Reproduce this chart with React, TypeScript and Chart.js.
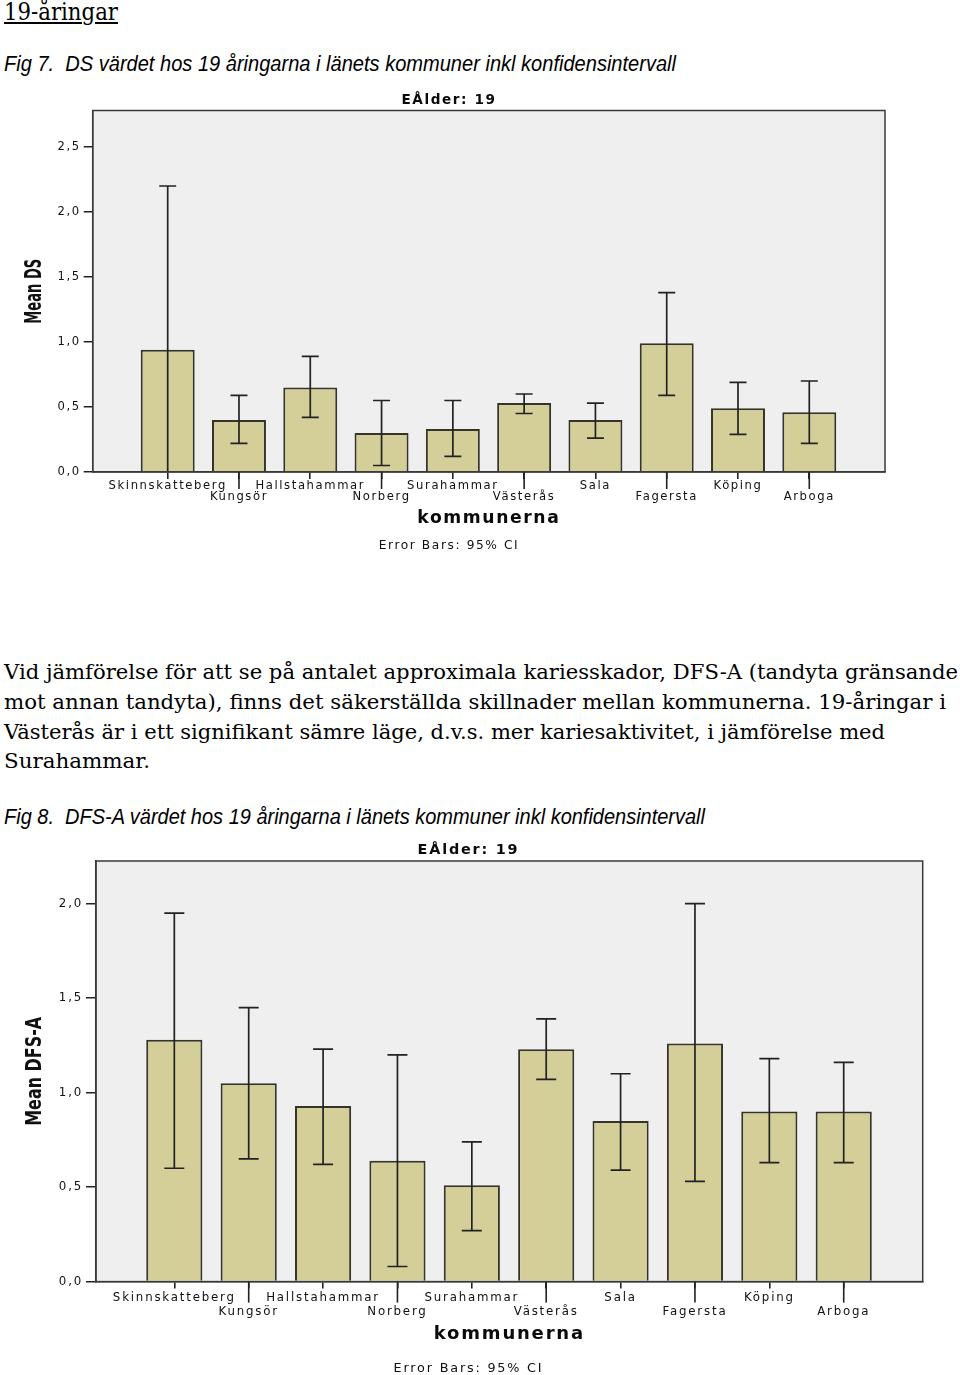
import React, { useEffect, useLayoutEffect, useRef } from "react";
import { Chart, registerables } from "chart.js";

Chart.register(...registerables);

// ---------- data ----------
const kommuner = [
  "Skinnskatteberg",
  "Kungsör",
  "Hallstahammar",
  "Norberg",
  "Surahammar",
  "Västerås",
  "Sala",
  "Fagersta",
  "Köping",
  "Arboga",
];

// Fig 7: Mean DS with 95% CI
const dsMean = [0.94, 0.40, 0.65, 0.30, 0.33, 0.53, 0.40, 0.99, 0.49, 0.46];
const dsUpper = [2.20, 0.59, 0.89, 0.55, 0.55, 0.60, 0.53, 1.38, 0.69, 0.70];
const dsLower = [-0.32, 0.22, 0.42, 0.05, 0.12, 0.45, 0.26, 0.59, 0.29, 0.22];
const dsYTicks = [0, 0.5, 1, 1.5, 2, 2.5];

// Fig 8: Mean DFS-A with 95% CI
const dfsMean = [1.28, 1.05, 0.93, 0.64, 0.51, 1.23, 0.85, 1.26, 0.90, 0.90];
const dfsUpper = [1.95, 1.45, 1.23, 1.20, 0.74, 1.39, 1.10, 2.00, 1.18, 1.16];
const dfsLower = [0.60, 0.65, 0.62, 0.08, 0.27, 1.07, 0.59, 0.53, 0.63, 0.63];
const dfsYTicks = [0, 0.5, 1, 1.5, 2];

// ---------- texts ----------
const heading = "19-åringar";
const fig7Caption =
  "Fig 7.  DS värdet hos 19 åringarna i länets kommuner inkl konfidensintervall";
const bodyLines = [
  "Vid jämförelse för att se på antalet approximala kariesskador, DFS-A (tandyta gränsande",
  "mot annan tandyta), finns det säkerställda skillnader mellan kommunerna. 19-åringar i",
  "Västerås är i ett signifikant sämre läge, d.v.s. mer kariesaktivitet, i jämförelse med",
  "Surahammar.",
];
const fig8Caption =
  "Fig 8.  DFS-A värdet hos 19 åringarna i länets kommuner inkl konfidensintervall";
const chartTitle = "EÅlder: 19";
const xAxisTitle = "kommunerna";
const footnote = "Error Bars: 95% CI";
const dsAxisTitle = "Mean DS";
const dfsAxisTitle = "Mean DFS-A";

// ---------- layout specs ----------
const specDS = {
  canvasTop: 86,
  canvasBottom: 555,
  canvasW: 900,
  areaLeft: 92.7,
  areaRight: 885,
  areaTop: 110.5,
  areaBottom: 472,
  titleX: 449,
  titleY: 100.4,
  titleSize: 13.6,
  xTitleY: 518.1,
  xTitleSize: 17.2,
  subY: 545.8,
  subSize: 12.2,
  tickSize: 11.6,
  tickLH: 11.4,
  tickRow1: 486,
  shortTick: 7,
  longTick: 17,
  yTickLen: 9,
  yTickPad: 3,
  spacing: 1.6,
  xMin: -1.052,
  xMax: 10.062,
  yMax: 2.781,
  barPct: 0.757,
  cap: 17,
  yTitleX: 35,
  yTitleSize: 23.7,
  yTitleLen: 65,
};

const specDFS = {
  canvasTop: 836,
  canvasBottom: 1375,
  canvasW: 937,
  areaLeft: 96,
  areaRight: 922.7,
  areaTop: 861,
  areaBottom: 1281.6,
  titleX: 468.5,
  titleY: 850.4,
  titleSize: 14.4,
  xTitleY: 1334.3,
  xTitleSize: 18,
  subY: 1368.5,
  subSize: 12.8,
  tickSize: 11.8,
  tickLH: 13.6,
  tickRow1: 1297.9,
  shortTick: 7,
  longTick: 21,
  yTickLen: 10,
  yTickPad: 3,
  spacing: 1.8,
  xMin: -1.053,
  xMax: 10.062,
  yMax: 2.226,
  barPct: 0.755,
  cap: 20,
  yTitleX: 35.8,
  yTitleSize: 21,
  yTitleLen: 109,
};

const FONT = "'DejaVu Sans', Verdana, sans-serif";
const NARROW = "'Liberation Sans Narrow', 'DejaVu Sans Condensed', 'Liberation Sans', sans-serif";

function buildConfig(s: any, mean: number[], upper: number[], lower: number[], yTicks: number[], yTitle: string) {
  const padLeft = 2 * s.titleX - s.areaRight;
  const padRight = s.canvasW - s.areaRight;
  const yAxisW = s.areaLeft - padLeft;
  const tlh = s.titleSize * 1.2;
  const tPadTop = s.titleY - s.canvasTop - tlh / 2;
  const tPadBottom = s.areaTop - s.canvasTop - tPadTop - tlh;
  const xlh = s.xTitleSize * 1.2;
  const xAxisH = s.xTitleY - s.areaBottom + xlh / 2 + 2;
  const tickPad = Math.max(0, s.tickRow1 - s.areaBottom - s.shortTick - s.tickLH / 2);
  const subTop = s.areaBottom + xAxisH;
  const sPadTop = s.subY - subTop - s.subSize / 2;
  const sPadBottom = Math.max(0, s.canvasBottom - subTop - sPadTop - s.subSize);

  const spacingPlugin = {
    id: "spacing",
    beforeUpdate(c: any) {
      c.ctx.letterSpacing = s.spacing + "px";
    },
    beforeDraw(c: any) {
      const ctx = c.ctx;
      ctx.letterSpacing = s.spacing + "px";
      const a = c.chartArea;
      ctx.save();
      ctx.fillStyle = "#EFEFEF";
      ctx.fillRect(a.left, a.top, a.right - a.left, a.bottom - a.top);
      ctx.restore();
    },
  };

  const errorBarPlugin = {
    id: "errorBars",
    afterDatasetsDraw(c: any) {
      const ctx = c.ctx;
      const a = c.chartArea;
      const xs = c.scales.x;
      const ys = c.scales.y;
      ctx.save();
      ctx.beginPath();
      ctx.rect(a.left, a.top, a.right - a.left, a.bottom - a.top);
      ctx.clip();
      ctx.strokeStyle = "#222";
      ctx.lineWidth = 1.7;
      mean.forEach((_, i) => {
        const x = xs.getPixelForValue(i);
        const yU = ys.getPixelForValue(upper[i]);
        const yL = ys.getPixelForValue(lower[i]);
        ctx.beginPath();
        ctx.moveTo(x, yU);
        ctx.lineTo(x, yL);
        ctx.moveTo(x - s.cap / 2, yU);
        ctx.lineTo(x + s.cap / 2, yU);
        ctx.moveTo(x - s.cap / 2, yL);
        ctx.lineTo(x + s.cap / 2, yL);
        ctx.stroke();
      });
      ctx.restore();
    },
  };

  const framePlugin = {
    id: "frame",
    afterDraw(c: any) {
      const ctx = c.ctx;
      const a = c.chartArea;
      const xs = c.scales.x;
      ctx.save();
      ctx.strokeStyle = "#3a3a3a";
      ctx.lineWidth = 1.5;
      ctx.strokeRect(a.left, a.top, a.right - a.left, a.bottom - a.top);
      // longer ticks for the staggered (second row) labels
      ctx.strokeStyle = "#222";
      ctx.lineWidth = 1.6;
      kommuner.forEach((_, i) => {
        if (i % 2 === 1) {
          const x = xs.getPixelForValue(i);
          ctx.beginPath();
          ctx.moveTo(x, a.bottom);
          ctx.lineTo(x, a.bottom + s.longTick);
          ctx.stroke();
        }
      });
      // rotated y-axis title
      ctx.letterSpacing = "0px";
      ctx.font = `bold ${s.yTitleSize}px ${NARROW}`;
      const w = ctx.measureText(yTitle).width;
      ctx.translate(s.yTitleX, (a.top + a.bottom) / 2);
      ctx.rotate(-Math.PI / 2);
      ctx.scale(s.yTitleLen / w, 1);
      ctx.textAlign = "center";
      ctx.textBaseline = "middle";
      ctx.fillStyle = "#111";
      ctx.fillText(yTitle, 0, 0);
      ctx.restore();
    },
  };

  return {
    type: "bar",
    data: {
      datasets: [
        {
          data: mean.map((v, i) => ({ x: i, y: v })),
          backgroundColor: "#D4CF98",
          borderColor: "#34342a",
          borderWidth: 2,
          barPercentage: s.barPct,
          categoryPercentage: 1,
        },
      ],
    },
    options: {
      responsive: false,
      animation: false,
      events: [],
      layout: { padding: { left: padLeft, right: padRight, top: 0, bottom: 0 } },
      plugins: {
        legend: { display: false },
        tooltip: { enabled: false },
        title: {
          display: true,
          text: chartTitle,
          color: "#0a0a0a",
          font: { family: FONT, size: s.titleSize, weight: "bold", lineHeight: 1.2 },
          padding: { top: tPadTop, bottom: tPadBottom },
        },
        subtitle: {
          display: true,
          position: "bottom",
          text: footnote,
          color: "#111",
          font: { family: FONT, size: s.subSize, weight: "normal", lineHeight: 1 },
          padding: { top: sPadTop, bottom: sPadBottom },
        },
      },
      scales: {
        x: {
          type: "linear",
          min: s.xMin,
          max: s.xMax,
          bounds: "data",
          offset: false,
          afterBuildTicks: (ax: any) => {
            ax.ticks = kommuner.map((_, i) => ({ value: i }));
          },
          afterFit: (ax: any) => {
            ax.height = xAxisH;
            ax.paddingLeft = 0;
            ax.paddingRight = 0;
          },
          grid: {
            display: true,
            offset: false,
            drawOnChartArea: false,
            drawTicks: true,
            tickLength: s.shortTick,
            color: "#222",
            lineWidth: 1.6,
          },
          border: { display: true, color: "#3a3a3a", width: 1.5 },
          ticks: {
            autoSkip: false,
            maxRotation: 0,
            minRotation: 0,
            padding: tickPad,
            color: "#111",
            font: { family: FONT, size: s.tickSize, lineHeight: s.tickLH + "px" },
            callback: (v: any) => {
              const i = Math.round(Number(v));
              const name = kommuner[i] ?? "";
              return i % 2 === 1 ? ["", name] : name;
            },
          },
          title: {
            display: true,
            text: xAxisTitle,
            color: "#0a0a0a",
            font: { family: FONT, size: s.xTitleSize, weight: "bold", lineHeight: 1.2 },
            padding: { top: 0, bottom: 2 },
          },
        },
        y: {
          type: "linear",
          min: 0,
          max: s.yMax,
          bounds: "data",
          afterBuildTicks: (ax: any) => {
            ax.ticks = yTicks.map((v) => ({ value: v }));
          },
          afterFit: (ax: any) => {
            ax.width = yAxisW;
            ax.paddingTop = 0;
            ax.paddingBottom = 0;
          },
          grid: {
            drawOnChartArea: false,
            drawTicks: true,
            tickLength: s.yTickLen,
            color: "#222",
            lineWidth: 1.5,
          },
          border: { display: true, color: "#3a3a3a", width: 1.5 },
          ticks: {
            padding: s.yTickPad,
            color: "#111",
            font: { family: FONT, size: s.tickSize },
            callback: (v: any) => Number(v).toFixed(1).replace(".", ","),
          },
          title: { display: false },
        },
      },
    },
    plugins: [spacingPlugin, errorBarPlugin, framePlugin],
  };
}

function BarChart({ spec, mean, upper, lower, yTicks, yTitle }: any) {
  const ref = useRef<HTMLCanvasElement>(null);
  const h = Math.round(spec.canvasBottom - spec.canvasTop);
  useEffect(() => {
    if (!ref.current) return;
    const chart = new Chart(ref.current, buildConfig(spec, mean, upper, lower, yTicks, yTitle) as any);
    return () => chart.destroy();
  }, []);
  return (
    <canvas
      ref={ref}
      width={spec.canvasW}
      height={h}
      style={{ position: "absolute", left: 0, top: spec.canvasTop, width: spec.canvasW, height: h }}
    />
  );
}

// ---------- HTML text lines ----------
const METRICS: any = {
  serif: { family: "'DejaVu Serif', 'Liberation Serif', serif", a: 0.928, d: 0.236 },
  sans: { family: "'Liberation Sans', Arial, sans-serif", a: 0.905, d: 0.212 },
};

function FitLine({ text, x, baseline, width, size, font, italic, underline }: any) {
  const ref = useRef<HTMLSpanElement>(null);
  useLayoutEffect(() => {
    const el = ref.current;
    if (!el) return;
    const fit = () => {
      el.style.transform = "none";
      const w = el.getBoundingClientRect().width;
      if (w > 0) el.style.transform = `scaleX(${width / w})`;
    };
    fit();
    if ((document as any).fonts && (document as any).fonts.ready) {
      (document as any).fonts.ready.then(fit);
    }
  }, [text, width]);
  const m = METRICS[font];
  const top = baseline - ((1 - (m.a + m.d)) / 2 + m.a) * size;
  return (
    <div
      style={{
        position: "absolute",
        left: x,
        top,
        whiteSpace: "pre",
        lineHeight: `${size}px`,
        fontSize: size,
        fontFamily: m.family,
        fontStyle: italic ? "italic" : "normal",
        color: "#000",
      }}
    >
      <span
        ref={ref}
        style={{
          display: "inline-block",
          transformOrigin: "0 0",
          textDecoration: underline ? "underline" : "none",
        }}
      >
        {text}
      </span>
    </div>
  );
}

const bodyBaselines = [679.3, 709.3, 739.3, 768.3];
const bodyWidths = [954, 942, 881, 146];

export default function App() {
  return (
    <div
      style={{
        position: "absolute",
        left: 0,
        top: 0,
        width: 960,
        height: 1375,
        overflow: "hidden",
        background: "#fff",
      }}
    >
      <FitLine text={heading} x={4} baseline={20.7} width={114} size={23.5} font="serif" underline />
      <FitLine text={fig7Caption} x={4} baseline={71.7} width={672} size={22} font="sans" italic />
      <BarChart spec={specDS} mean={dsMean} upper={dsUpper} lower={dsLower} yTicks={dsYTicks} yTitle={dsAxisTitle} />
      {bodyLines.map((t, i) => (
        <FitLine key={i} text={t} x={4} baseline={bodyBaselines[i]} width={bodyWidths[i]} size={21} font="serif" />
      ))}
      <FitLine text={fig8Caption} x={4} baseline={825} width={701} size={22} font="sans" italic />
      <BarChart spec={specDFS} mean={dfsMean} upper={dfsUpper} lower={dfsLower} yTicks={dfsYTicks} yTitle={dfsAxisTitle} />
    </div>
  );
}
